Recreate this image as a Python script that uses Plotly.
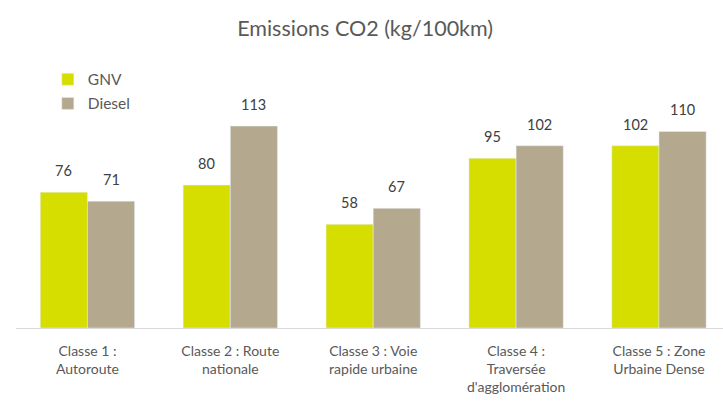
import plotly.graph_objects as go

categories = ["Classe 1 :<br>Autoroute", "Classe 2 : Route<br>nationale",
              "Classe 3 : Voie<br>rapide urbaine", "Classe 4 :<br>Traversée<br>d'agglomération",
              "Classe 5 : Zone<br>Urbaine Dense"]
series_names = ["GNV", "Diesel"]
gnv = [76, 80, 58, 95, 102]
diesel = [71, 113, 67, 102, 110]

FONT = "Lato, 'Open Sans', sans-serif"
COLORS = ["#d6de00", "#b4a98e"]
fig = go.Figure()
for i, (name, vals) in enumerate(zip(series_names, [gnv, diesel])):
    fig.add_trace(go.Bar(name=name, x=categories, y=vals, marker_color=COLORS[i],
                         legendgroup=name, offsetgroup=str(i)))

# value labels above bars
bar_half = 143 * 0.66 / 4
for i, vals in enumerate([gnv, diesel]):
    shift = -bar_half if i == 0 else bar_half
    for c, v in zip(categories, vals):
        fig.add_annotation(x=c, y=v, text=str(v), showarrow=False, xshift=shift,
                           yanchor="bottom", yshift=11,
                           font=dict(size=14.5, color="#404040", family=FONT))

fig.update_layout(
    width=723, height=403,
    margin=dict(l=15.5, r=0, t=60, b=75),
    paper_bgcolor="white", plot_bgcolor="white",
    font=dict(family=FONT, color="#595959", size=14),
    title=dict(text="Emissions CO2 (kg/100km)", x=0.505, xanchor="center", y=0.93, yanchor="middle",
               font=dict(size=21.5, color="#595959", family=FONT)),
    barmode="group", bargap=0.34, bargroupgap=0,
    legend=dict(x=0.045, y=0.99, xanchor="left", yanchor="top", bgcolor="rgba(0,0,0,0)",
                font=dict(size=15.5, color="#595959"), itemwidth=30, tracegroupgap=1),
    showlegend=True,
)
fig.update_xaxes(range=[-0.5, 4.448], showline=True, linecolor="#d9d9d9", linewidth=1,
                 ticks="", tickfont=dict(size=14, color="#595959"), showgrid=False,
                 ticklabelstandoff=10)
fig.update_yaxes(range=[0, 150], visible=False, showgrid=False)

fig.write_html("out.html")
